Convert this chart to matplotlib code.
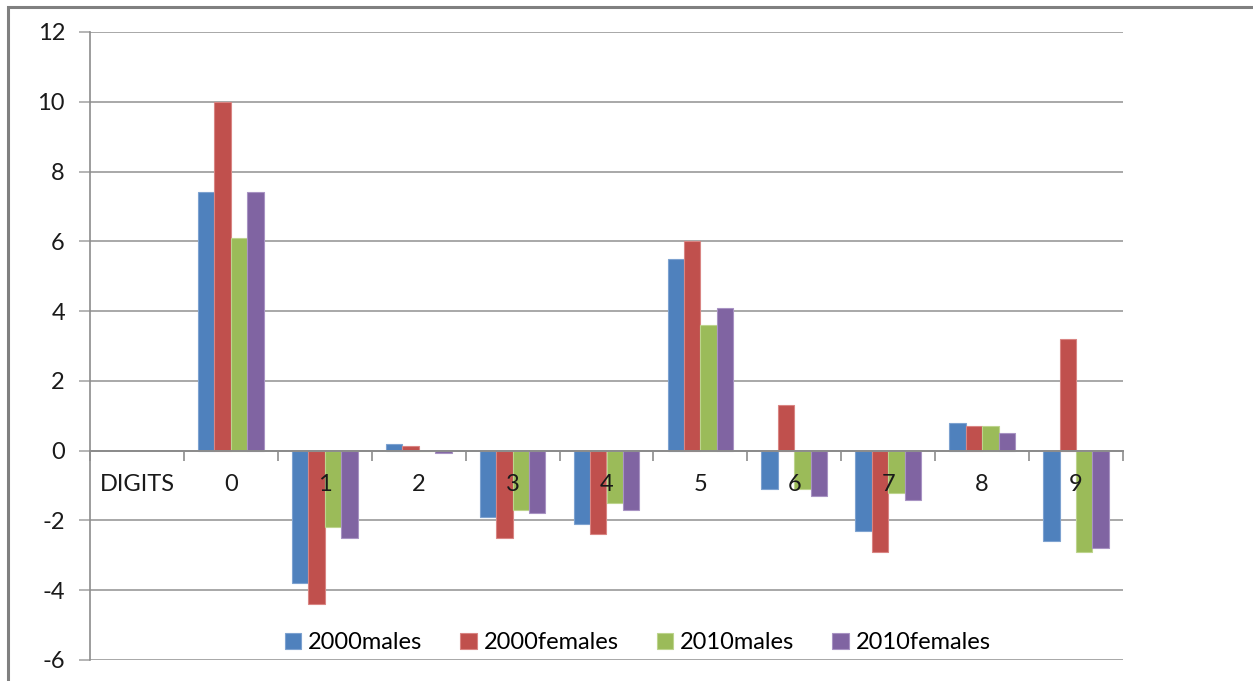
import numpy as np
import matplotlib
matplotlib.use("Agg")
import matplotlib.pyplot as plt
from matplotlib.patches import Rectangle
from matplotlib.transforms import offset_copy

plt.rcParams['font.family'] = ['Lato', 'DejaVu Sans']
plt.rcParams['axes.unicode_minus'] = False

# digit categories, first slot is the axis caption
categories = ["DIGITS", "0", "1", "2", "3", "4", "5", "6", "7", "8", "9"]

males_2000 = [np.nan, 7.4, -3.8, 0.2, -1.9, -2.1, 5.5, -1.1, -2.3, 0.8, -2.6]
females_2000 = [np.nan, 10.0, -4.4, 0.12, -2.5, -2.4, 6.0, 1.3, -2.9, 0.7, 3.2]
males_2010 = [np.nan, 6.1, -2.2, 0.0, -1.7, -1.5, 3.6, -1.1, -1.2, 0.7, -2.9]
females_2010 = [np.nan, 7.4, -2.5, -0.08, -1.8, -1.7, 4.1, -1.3, -1.4, 0.5, -2.8]

series = [
    ("2000males", males_2000, "#4F81BD", "#7DA2D0"),
    ("2000females", females_2000, "#C0504D", "#D98583"),
    ("2010males", males_2010, "#9BBB59", "#BDD48D"),
    ("2010females", females_2010, "#8064A2", "#A893C3"),
]

FS = 17
fig = plt.figure(figsize=(12.53, 6.81), dpi=100)
ax = fig.add_axes([90 / 1253, 1 - 660 / 681, 1033 / 1253, 628 / 681])

x = np.arange(len(categories))
width = 0.175
handles = []
for i, (name, vals, col, edge) in enumerate(series):
    b = ax.bar(x + (i - 1.5) * width, vals, width, color=col,
               edgecolor=edge, linewidth=0.8, label=name, zorder=3)
    handles.append(b)

ax.set_xlim(-0.5, len(categories) - 0.5)
ax.set_ylim(-6, 12)
yticks = np.arange(-6, 13, 2)
ax.set_yticks(yticks)

grid_col = "#A8A8A8"
for yv in yticks:
    ax.axhline(yv, color=grid_col, linewidth=1.4, zorder=0)
ax.tick_params(axis='y', length=8, width=1.2, color=grid_col,
               labelsize=FS, pad=10, labelcolor="#1a1a1a")

for s in ["top", "right"]:
    ax.spines[s].set_visible(False)
ax.spines["left"].set_color("#8C8C8C")
ax.spines["left"].set_linewidth(1.2)
ax.spines["bottom"].set_position(("data", 0))
ax.spines["bottom"].set_color("#8C8C8C")
ax.spines["bottom"].set_linewidth(1.4)
ax.spines["bottom"].set_zorder(4)

ax.set_xticks(x)
ax.set_xticklabels([])
ax.set_xticks(np.arange(len(categories) + 1) - 0.5, minor=True)
ax.tick_params(axis='x', which='major', length=0)
ax.tick_params(axis='x', which='minor', length=7, width=1.2,
               color="#8C8C8C", direction='out')

# category labels sit just under the zero line, drawn over the bars
lbl_tr = offset_copy(ax.transData, fig=fig, x=0, y=-34, units='dots')
for xi, cat in zip(x, categories):
    ax.text(xi, 0, cat, transform=lbl_tr, ha='center', va='center',
            fontsize=FS, color="#1a1a1a", zorder=6)

fig.legend(handles=handles, loc="center", bbox_to_anchor=(0.509, 0.056),
           ncol=4, frameon=False, fontsize=FS, handlelength=0.7,
           handleheight=0.7, handletextpad=0.3, columnspacing=1.6)

# outer chart border
fig.patches.append(Rectangle((8 / 1253, -0.1), 1.2, 1 - 7 / 681 + 0.1,
                             transform=fig.transFigure, fill=False,
                             edgecolor="#808080", linewidth=2.2))

fig.savefig("out.png", dpi=100)
